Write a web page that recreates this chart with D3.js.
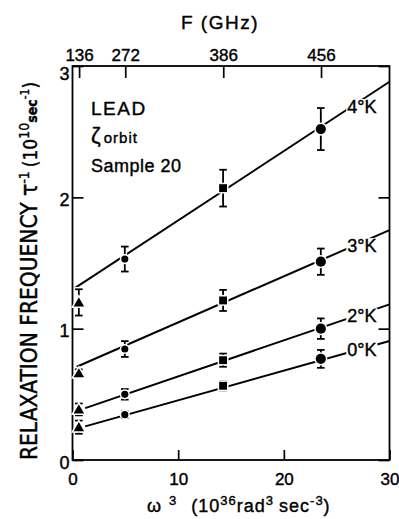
<!DOCTYPE html>
<html>
<head>
<meta charset="utf-8">
<script src="https://cdn.jsdelivr.net/npm/d3@7"></script>
<style>
  body { margin: 0; background: #fff; }
  svg { font-family: "Liberation Sans", Arial, sans-serif; }
  svg text { fill: #000; stroke: #000; stroke-width: 0.4px; }
</style>
</head>
<body>
<div class="chart"></div>
<script>
// omega^3 of the four measuring frequencies, in 10^36 rad^3 sec^-3
var omega3 = [0.6, 4.95, 14.25, 23.5];
var markerKind = ["triangle", "smallCircle", "square", "circle"];

var temps = ["4°K", "3°K", "2°K", "0°K"];

// relaxation frequency, 10^10 sec^-1, and error bar half heights
var rate4K = [1.20, 1.53, 2.07, 2.52];
var err4K  = [0.10, 0.095, 0.14, 0.16];
var rate3K = [0.66, 0.845, 1.215, 1.51];
var err3K  = [0.03, 0.06, 0.08, 0.10];
var rate2K = [0.385, 0.50, 0.76, 1.00];
var err2K  = [0.045, 0.04, 0.05, 0.078];
var rate0K = [0.25, 0.345, 0.565, 0.77];
var err0K  = [0.05, 0.025, 0.035, 0.068];

// straight fits drawn through each set: [omega^3, rate] end points
var fit4K = [[0.25, 1.31], [30, 2.88]];
var fit3K = [[0.4, 0.71], [30, 1.75]];
var fit2K = [[1.2, 0.395], [30, 1.185]];
var fit0K = [[1.2, 0.256], [30, 0.906]];

var xTicks = [0, 10, 20, 30];
var yTicks = [0, 1, 2, 3];
var fTicks = [136, 272, 386, 456];   // GHz

var series = [
    {name: temps[0], rate: rate4K, err: err4K, fit: fit4K},
    {name: temps[1], rate: rate3K, err: err3K, fit: fit3K},
    {name: temps[2], rate: rate2K, err: err2K, fit: fit2K},
    {name: temps[3], rate: rate0K, err: err0K, fit: fit0K}
];

var margin = {top: 66, right: 9.5, bottom: 59, left: 72.5},
    width = 399 - margin.left - margin.right,
    height = 519 - margin.top - margin.bottom;

var svg = d3.select(".chart").append("svg")
    .attr("width", 399)
    .attr("height", 519)
    .append("g")
    .attr("transform", "translate(" + margin.left + "," + margin.top + ")");

var x = d3.scaleLinear().domain([0, 30]).range([0, width]);
var y = d3.scaleLinear().domain([0, 3]).range([height, 0]);

// F is tied to omega^3 = (2 pi F)^3, so the top scale is a cube scale
var fMax = Math.cbrt(30e36) / (2 * Math.PI) / 1e9;
var f = d3.scalePow().exponent(3).domain([0, fMax]).range([0, width]);

function styleAxis(g) {
    g.select(".domain").remove();
    g.selectAll(".tick line").attr("stroke", "#000").attr("stroke-width", 1.7);
    g.selectAll("text").attr("font-size", 17)
        .attr("font-family", "Liberation Sans, Arial, sans-serif");
}

svg.append("g")
    .attr("transform", "translate(0," + height + ")")
    .call(d3.axisBottom(x).tickValues(xTicks).tickSize(-10).tickPadding(13))
    .call(styleAxis);

svg.append("g")
    .call(d3.axisLeft(y).tickValues(yTicks).tickSize(-11).tickPadding(3).tickFormat(d3.format("d")))
    .call(styleAxis)
    .call(function(g) {
        g.selectAll("text").attr("font-size", 18).attr("dy", "0.45em");
        // the top label sits a little below the corner, clear of the F labels
        g.selectAll(".tick").filter(function(d) { return d === 3; })
            .select("text").attr("dy", "0.75em");
    });

svg.append("g")
    .attr("transform", "translate(" + width + ",0)")
    .call(d3.axisRight(y).tickValues(yTicks).tickSize(-11).tickFormat(""))
    .call(styleAxis);

svg.append("g")
    .call(d3.axisTop(f).tickValues(fTicks).tickSize(-12).tickPadding(5))
    .call(styleAxis);

// frame
svg.append("rect")
    .attr("width", width).attr("height", height)
    .attr("fill", "none").attr("stroke", "#000").attr("stroke-width", 1.8);

var line = d3.line()
    .x(function(d) { return x(d[0]); })
    .y(function(d) { return y(d[1]); });

var symbols = {
    triangle: d3.symbol().type(d3.symbolTriangle).size(48),
    smallCircle: d3.symbol().type(d3.symbolCircle).size(40),
    square: d3.symbol().type(d3.symbolSquare).size(62),
    circle: d3.symbol().type(d3.symbolCircle).size(82)
};

series.forEach(function(s) {
    var g = svg.append("g");

    g.append("path")
        .attr("d", line(s.fit))
        .attr("fill", "none").attr("stroke", "#000").attr("stroke-width", 2);

    var pts = omega3.map(function(w, i) {
        return {x: w, v: s.rate[i], e: s.err[i], kind: markerKind[i]};
    });

    // white halo first, then black, so the fit line breaks at each point
    [["#fff", 4.5], ["#000", 1.8]].forEach(function(st) {
        var bars = g.selectAll(null).data(pts).enter().append("g");
        bars.append("line")
            .attr("x1", function(d) { return x(d.x); })
            .attr("x2", function(d) { return x(d.x); })
            .attr("y1", function(d) { return y(d.v - d.e); })
            .attr("y2", function(d) { return y(d.v + d.e); });
        bars.append("line")
            .attr("x1", function(d) { return x(d.x) - 3.8; })
            .attr("x2", function(d) { return x(d.x) + 3.8; })
            .attr("y1", function(d) { return y(d.v + d.e); })
            .attr("y2", function(d) { return y(d.v + d.e); });
        bars.append("line")
            .attr("x1", function(d) { return x(d.x) - 3.8; })
            .attr("x2", function(d) { return x(d.x) + 3.8; })
            .attr("y1", function(d) { return y(d.v - d.e); })
            .attr("y2", function(d) { return y(d.v - d.e); });
        bars.selectAll("line").attr("stroke", st[0]).attr("stroke-width", st[1]);
    });

    g.selectAll(null).data(pts).enter().append("path")
        .attr("transform", function(d) {
            return "translate(" + x(d.x) + "," + (y(d.v) + (d.kind === "triangle" ? 1 : 0)) + ")";
        })
        .attr("d", function(d) { return symbols[d.kind](); })
        .attr("fill", "#000")
        .attr("stroke", "#fff").attr("stroke-width", 3)
        .style("paint-order", "stroke");

    // label starts where the fit line reaches omega^3 = 26
    var lx = 26;
    var p0 = s.fit[0], p1 = s.fit[1];
    var ly = p0[1] + (p1[1] - p0[1]) * (lx - p0[0]) / (p1[0] - p0[0]);
    var lab = g.append("g").attr("transform", "translate(" + x(lx) + "," + (y(ly) - 3) + ")");
    var bg = lab.append("rect").attr("fill", "#fff");
    var t = lab.append("text")
        .attr("dy", "0.36em")
        .attr("font-size", 18)
        .text(s.name);
    var bb = t.node().getBBox();
    bg.attr("x", bb.x - 1).attr("y", bb.y + 2).attr("width", bb.width + 2).attr("height", bb.height - 4);
});

// annotation block
var note = svg.append("g").attr("transform", "translate(" + (91 - margin.left) + ",0)");
note.append("text").attr("y", 49).attr("font-size", 19).attr("letter-spacing", 1.5).text("LEAD");
var z = note.append("text").attr("y", 77);
z.append("tspan").attr("font-size", 22).text("ζ");
z.append("tspan").attr("font-size", 15).attr("dx", 3).attr("letter-spacing", 1).text("orbit");
note.append("text").attr("y", 106).attr("font-size", 18).attr("letter-spacing", 0.5).text("Sample 20");

// axis titles
d3.select("svg").append("text")
    .attr("x", 220).attr("y", 29)
    .attr("text-anchor", "middle").attr("font-size", 19).attr("letter-spacing", 1.5)
    .text("F (GHz)");

var xt = d3.select("svg").append("text")
    .attr("x", 147).attr("y", 512).attr("font-size", 18).attr("letter-spacing", 1);
xt.append("tspan").text("ω");
xt.append("tspan").attr("dx", 7).attr("dy", -7).attr("font-size", 13).text("3");
xt.append("tspan").attr("dx", 14).attr("dy", 7).text("(10");
xt.append("tspan").attr("dy", -7).attr("font-size", 13).text("36");
xt.append("tspan").attr("dy", 7).attr("font-size", 18).text("rad");
xt.append("tspan").attr("dy", -7).attr("font-size", 13).text("3");
xt.append("tspan").attr("dy", 7).attr("dx", 5).attr("font-size", 18).text("sec");
xt.append("tspan").attr("dy", -7).attr("font-size", 13).text("-3");
xt.append("tspan").attr("dy", 7).text(")");

var yt = d3.select("svg").append("text")
    .attr("transform", "translate(37,460) rotate(-90)")
    .attr("font-family", "DejaVu Sans Condensed, Liberation Sans, sans-serif")
    .attr("font-size", 22.5);
yt.append("tspan").text("RELAXATION FREQUENCY τ");
yt.append("tspan").attr("dy", -8).attr("font-size", 14).text("-1");
yt.append("tspan").attr("dy", 8).attr("dx", 4).attr("font-size", 19).text("(10");
yt.append("tspan").attr("dy", -8).attr("font-size", 14).text("10");
yt.append("tspan").attr("dy", 8).attr("font-size", 14).attr("font-weight", "bold").text("sec");
yt.append("tspan").attr("dy", -8).attr("font-size", 12).text("-1");
yt.append("tspan").attr("dy", 8).attr("font-size", 19).text(")");
</script>
</body>
</html>
